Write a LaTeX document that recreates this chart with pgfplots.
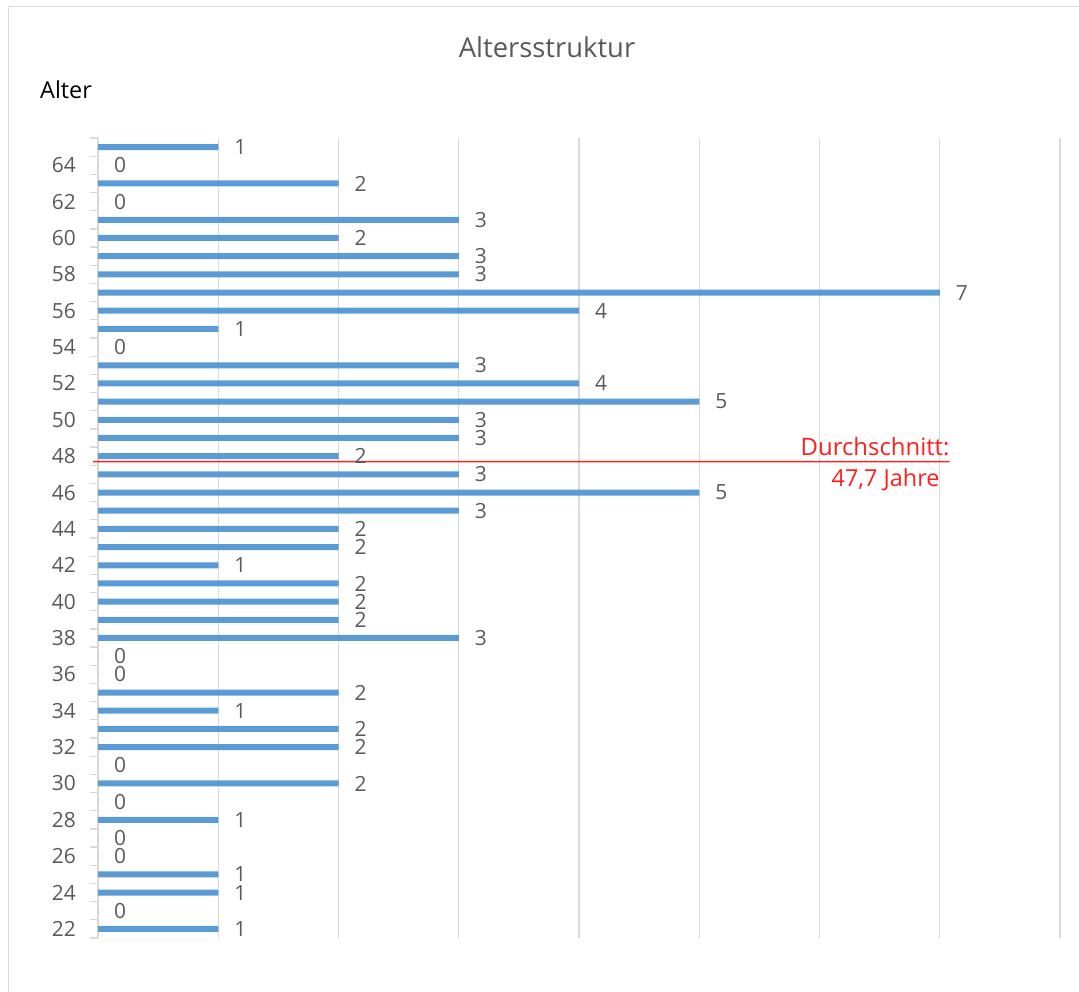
\documentclass[border=0pt]{standalone}
\usepackage{pgfplots}
\pgfplotsset{compat=1.18}
\usepackage{fontspec}
\setmainfont{Open Sans}
\definecolor{barblue}{HTML}{5B9BD5}
\definecolor{txtgray}{HTML}{595959}
\definecolor{gridgray}{HTML}{D9D9D9}
\definecolor{avgred}{HTML}{FF1F1F}
\pgfplotstableread{
age count
22 1
23 0
24 1
25 1
26 0
27 0
28 1
29 0
30 2
31 0
32 2
33 2
34 1
35 2
36 0
37 0
38 3
39 2
40 2
41 2
42 1
43 2
44 2
45 3
46 5
47 3
48 2
49 3
50 3
51 5
52 4
53 3
54 0
55 1
56 4
57 7
58 3
59 3
60 2
61 3
62 0
63 2
64 0
65 1
}\agedata
\pgfplotstableread{
x y
-0.042 47.7
7.083 47.7
}\avgdata
\begin{document}
\begin{tikzpicture}
\path[use as bounding box] (0,0) rectangle (1079bp,992bp);
\draw[gridgray, line width=1.5bp] (8.5bp,0) -- (8.5bp,985.5bp) -- (1079bp,985.5bp);
\node[txtgray, font=\fontsize{27.5}{32}\selectfont] at (547bp,945bp) {Altersstruktur};
\node[black, font=\fontsize{23.5}{28}\selectfont, anchor=west, inner sep=0pt] at (40bp,902bp) {Alter};
\begin{axis}[
  at={(98bp,54bp)}, anchor=south west,
  scale only axis, width=962bp, height=800bp,
  xmin=0, xmax=8, ymin=21.5, ymax=65.5,
  axis line style={draw=none},
  xtick={0,1,...,8}, xticklabels={}, xtick style={draw=none},
  xmajorgrids, grid style={gridgray, line width=1.2bp},
  ytick={22,24,...,64}, major tick length=0pt,
  minor ytick={21.5,22.5,...,65.5}, minor tick length=8bp,
  tick align=outside, tick pos=left,
  minor tick style={gridgray, line width=1.2bp},
  yticklabel style={txtgray, font=\fontsize{21}{25}\selectfont, anchor=east, inner sep=0pt, xshift=-22bp},
  /pgf/number format/assume math mode=true,
  clip=false,
]
\addplot[xbar, bar width=6bp, fill=barblue, draw=none,
  nodes near coords,
  nodes near coords style={txtgray, font=\fontsize{21}{25}\selectfont, anchor=west, inner sep=0pt, xshift=16bp}]
  table[x=count, y=age] {\agedata};
\addplot[xbar, bar width=1.4bp, fill=avgred, draw=none] table[x=x, y=y] {\avgdata};
\node[avgred, font=\fontsize{24}{28}\selectfont, anchor=east, inner sep=0pt] at (axis cs:7.083,48.55) {Durchschnitt:};
\node[avgred, font=\fontsize{23.5}{28}\selectfont, anchor=east, inner sep=0pt] at (axis cs:7.0,46.72) {47,7 Jahre};
\end{axis}
\end{tikzpicture}
\end{document}
